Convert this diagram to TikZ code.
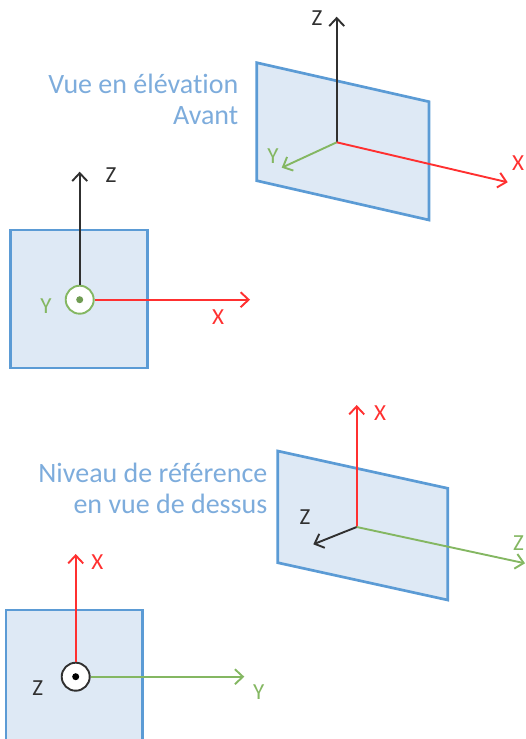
\documentclass[tikz,border=0pt]{standalone}
\usepackage{fontspec}
\setmainfont{Carlito}[Ligatures=NoCommon]
\usetikzlibrary{arrows.meta}
\definecolor{panelfill}{HTML}{DEE9F5}
\definecolor{panelline}{HTML}{5B9BD5}
\definecolor{axred}{HTML}{FF3030}
\definecolor{axgreen}{HTML}{84B762}
\definecolor{axblack}{HTML}{303030}
\definecolor{titleblue}{HTML}{7DACDC}
\tikzset{
  x=1pt,y=-1pt,
  panel/.style={draw=panelline,fill=panelfill,line width=2.7pt,line join=miter},
  axis/.style={line width=1.9pt,-{Straight Barb[length=8pt,width=15pt,line width=1.9pt]}},
  rx/.style={axis,draw=axred},
  gx/.style={axis,draw=axgreen},
  kx/.style={axis,draw=axblack},
  lab/.style={font=\fontsize{23}{23}\selectfont,inner sep=0pt,anchor=center},
  title/.style={font=\fontsize{28}{31}\selectfont,text=titleblue,inner sep=0pt,anchor=east,align=right},
  ring/.style={circle,fill=white,line width=1.9pt,minimum size=28pt,inner sep=0pt},
  pip/.style={circle,minimum size=7pt,inner sep=0pt},
}
\begin{document}
\begin{tikzpicture}
\useasboundingbox (0,0) rectangle (525,739);
% top right panel
\draw[panel] (256.7,62.7) -- (429,101.7) -- (429,220) -- (256.7,180.7) -- cycle;
\coordinate (o1) at (336.7,142.3);
\coordinate (o1z) at (336.7,16.7);
\coordinate (o1y) at (281.7,167.7);
\coordinate (o1x) at (507.7,182.3);
\draw[kx] (o1) -- (o1z);
\draw[gx] (o1) -- (o1y);
\draw[rx] (o1) -- (o1x);
\node[lab,text=axblack] (t1z) at (317,18) {Z};
\node[lab,text=axgreen] (t1y) at (273,156) {Y};
\node[lab,text=axred] (t1x) at (518,163) {X};
\node[title] (t1) at (238.5,99) {Vue en élévation\\Avant};
% left panel
\draw[panel] (10.5,230) rectangle (147.5,368);
\node[ring,draw=axgreen] (c2) at (79.7,299.7) {};
\node[pip,fill=axgreen!85!black] (d2) at (79.7,299.7) {};
\coordinate (o2z) at (79.7,171.7);
\coordinate (o2x) at (250,299.7);
\draw[kx] (c2) -- (o2z);
\draw[rx] (c2) -- (o2x);
\node[lab,text=axblack] (t2z) at (111,175) {Z};
\node[lab,text=axgreen] (t2y) at (46,306) {Y};
\node[lab,text=axred] (t2x) at (218,316.7) {X};
% lower right panel
\draw[panel] (277.7,451) -- (447.7,488.3) -- (447.7,600) -- (277.7,562.7) -- cycle;
\coordinate (o3) at (356.7,527);
\coordinate (o3x) at (356.7,405);
\coordinate (o3z) at (313.3,544.3);
\coordinate (o3g) at (525,563.3);
\draw[rx] (o3) -- (o3x);
\draw[kx] (o3) -- (o3z);
\draw[gx] (o3) -- (o3g);
\node[lab,text=axred] (t3x) at (380,412.7) {X};
\node[lab,text=axblack] (t3z) at (305,516.7) {Z};
\node[lab,text=axgreen] (t3g) at (518.5,543) {Z};
\node[title] (t3) at (267.5,488.5) {Niveau de référence\\en vue de dessus};
% lower left panel
\draw[panel] (6,610) rectangle (142.7,760);
\node[ring,draw=axblack] (c4) at (75.7,676.7) {};
\node[pip,fill=black] (d4) at (75.7,676.7) {};
\coordinate (o4x) at (75.7,554);
\coordinate (o4y) at (244.3,676.7);
\draw[rx] (c4) -- (o4x);
\draw[gx] (c4) -- (o4y);
\node[lab,text=axred] (t4x) at (97.3,561.7) {X};
\node[lab,text=axblack] (t4z) at (37.7,687.7) {Z};
\node[lab,text=axgreen] (t4y) at (258.7,691.7) {Y};
\end{tikzpicture}
\end{document}
